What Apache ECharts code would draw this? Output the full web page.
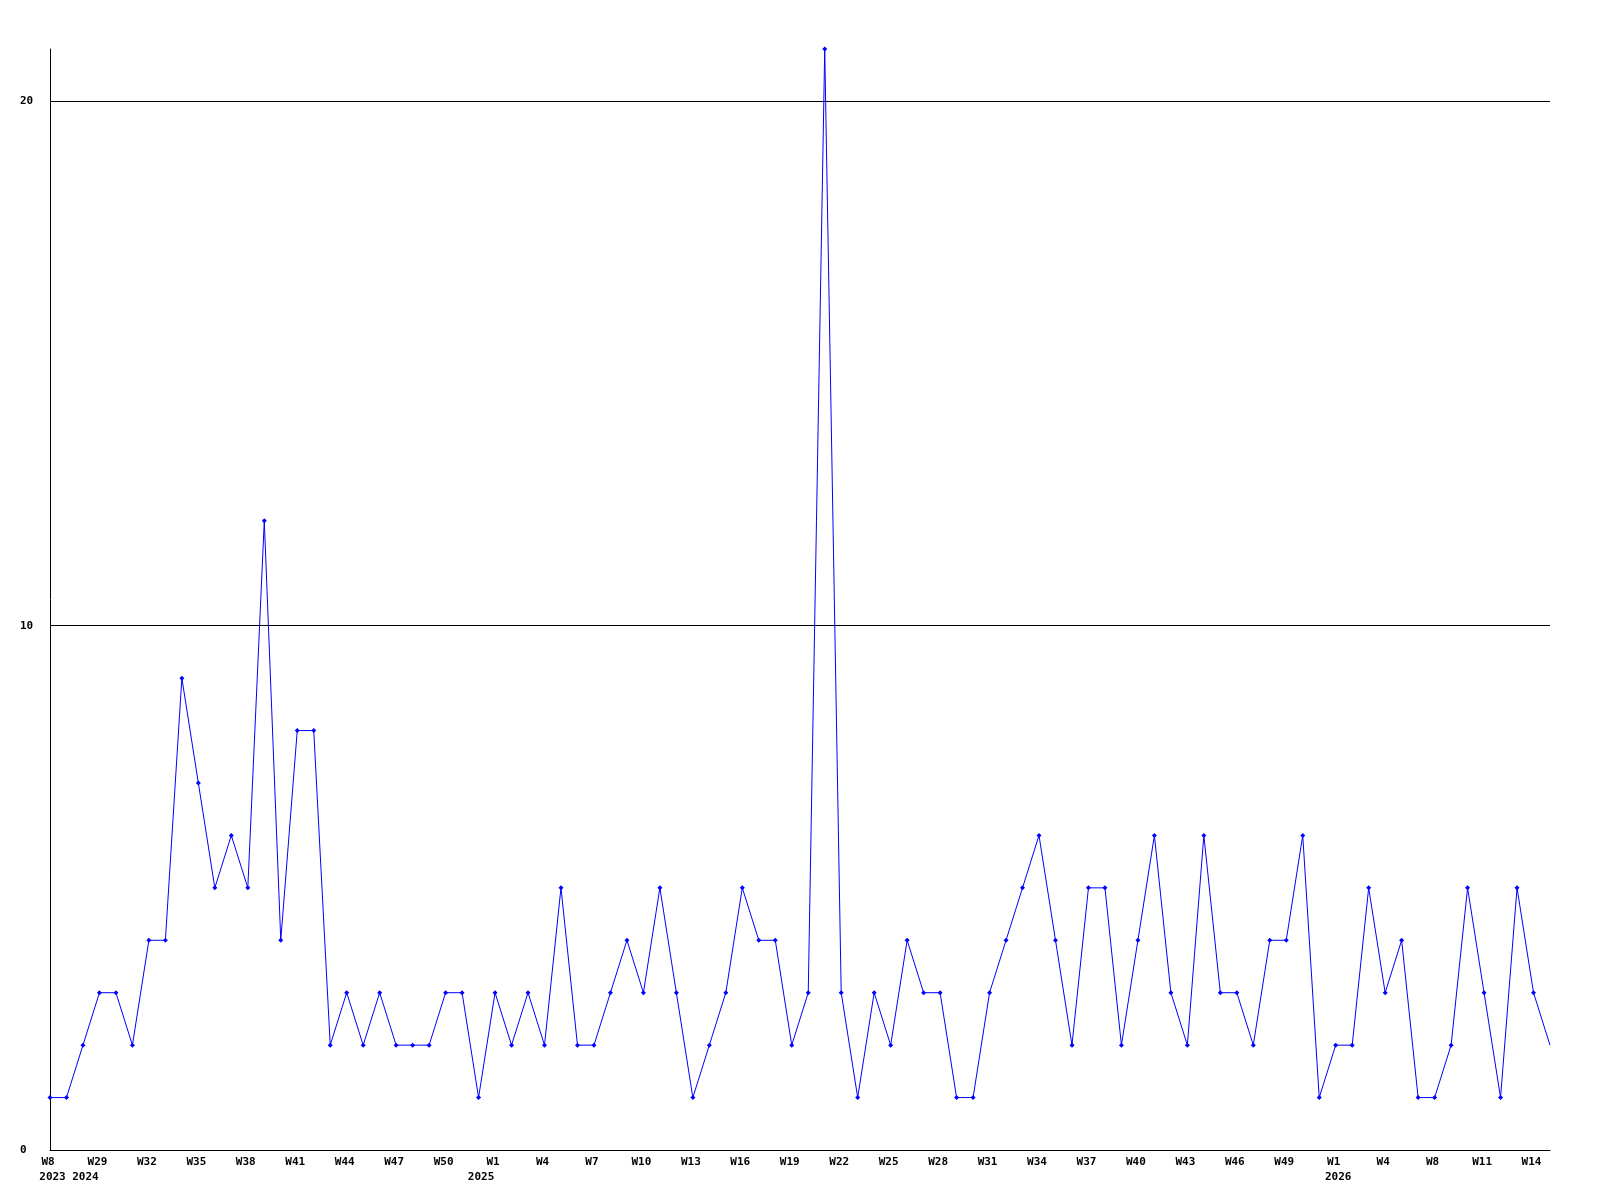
<!DOCTYPE html>
<html>
<head>
<meta charset="utf-8">
<script src="https://cdn.jsdelivr.net/npm/echarts@6/dist/echarts.min.js"></script>
<style>html,body{margin:0;padding:0;background:#fff}#c{width:1600px;height:1200px}</style>
</head>
<body>
<div id="c"></div>
<script>
// Week categories (ISO year-week)
const weeks = [
  '2023-W8','2024-W27','2024-W28','2024-W29','2024-W30','2024-W31','2024-W32','2024-W33','2024-W34','2024-W35',
  '2024-W36','2024-W37','2024-W38','2024-W39','2024-W40','2024-W41','2024-W42','2024-W43','2024-W44','2024-W45',
  '2024-W46','2024-W47','2024-W48','2024-W49','2024-W50','2024-W51','2024-W52',
  '2025-W1','2025-W2','2025-W3','2025-W4','2025-W5','2025-W6','2025-W7','2025-W8','2025-W9','2025-W10',
  '2025-W11','2025-W12','2025-W13','2025-W14','2025-W15','2025-W16','2025-W17','2025-W18','2025-W19','2025-W20',
  '2025-W21','2025-W22','2025-W23','2025-W24','2025-W25','2025-W26','2025-W27','2025-W28','2025-W29','2025-W30',
  '2025-W31','2025-W32','2025-W33','2025-W34','2025-W35','2025-W36','2025-W37','2025-W38','2025-W39','2025-W40',
  '2025-W41','2025-W42','2025-W43','2025-W44','2025-W45','2025-W46','2025-W47','2025-W48','2025-W49','2025-W50',
  '2025-W51',
  '2026-W1','2026-W2','2026-W3','2026-W4','2026-W5','2026-W6','2026-W8','2026-W9','2026-W10','2026-W11',
  '2026-W12','2026-W13','2026-W14','2026-W15'
];
// Weekly counts
const counts = [
  1,1,2,3,3,2,4,4,9,7,
  5,6,5,12,4,8,8,2,3,2,
  3,2,2,2,3,3,1,
  3,2,3,2,5,2,2,3,4,3,
  5,3,1,2,3,5,4,4,2,3,
  21,3,1,3,2,4,3,3,1,1,
  3,4,5,6,4,2,5,5,2,4,
  6,3,2,6,3,3,2,4,4,6,
  1,
  2,2,5,3,4,1,1,2,5,3,
  1,5,3,2
];
// Year labels under the week axis and the category index they sit under
const yearLabels = ['2023','2024','2025','2026'];
const yearLabelIndex = [0, 2, 26, 78];
// Y axis tick values
const yTicks = [0, 10, 20];

const font = {fontFamily: 'DejaVu Sans Mono', fontWeight: 'bold', fontSize: 11, color: '#000'};

const chart = echarts.init(document.getElementById('c'), null, {renderer: 'canvas'});
chart.setOption({
  animation: false,
  backgroundColor: '#fff',
  grid: {left: 50, right: 50, top: 49, bottom: 50, containLabel: false},
  xAxis: [{
    type: 'category',
    data: weeks,
    boundaryGap: false,
    axisLine: {show: true, lineStyle: {color: '#000', width: 1}},
    axisTick: {show: false},
    splitLine: {show: false},
    axisLabel: Object.assign({
      interval: 2,
      margin: 7,
      padding: [0, 4, 0, 0],
      formatter: v => v.split('-')[1]
    }, font)
  }, {
    type: 'category',
    data: weeks,
    boundaryGap: false,
    position: 'bottom',
    axisLine: {show: false},
    axisTick: {show: false},
    splitLine: {show: false},
    axisLabel: Object.assign({
      interval: (i) => yearLabelIndex.indexOf(i) >= 0,
      margin: 22,
      padding: [0, 0, 0, 5],
      formatter: (v, i) => yearLabels[yearLabelIndex.indexOf(i)]
    }, font)
  }],
  yAxis: {
    type: 'value',
    min: 0,
    max: 21,
    interval: 10,
    axisLine: {show: true, lineStyle: {color: '#000', width: 1}},
    axisTick: {show: false},
    splitLine: {show: true, lineStyle: {color: ['#000', '#000', '#000', 'rgba(0,0,0,0)'], width: 1}},
    axisLabel: Object.assign({
      align: 'left',
      margin: 30,
      showMaxLabel: false,
      formatter: v => (yTicks.indexOf(v) >= 0 ? String(v) : '')
    }, font)
  },
  series: [{
    type: 'line',
    xAxisIndex: 0,
    data: counts,
    showAllSymbol: true,
    symbol: (val, p) => (p.dataIndex === counts.length - 1 ? 'none' : 'diamond'),
    symbolSize: 5,
    itemStyle: {color: '#0000ff'},
    lineStyle: {color: '#0000ff', width: 1},
    emphasis: {disabled: true}
  }]
});
</script>
</body>
</html>
